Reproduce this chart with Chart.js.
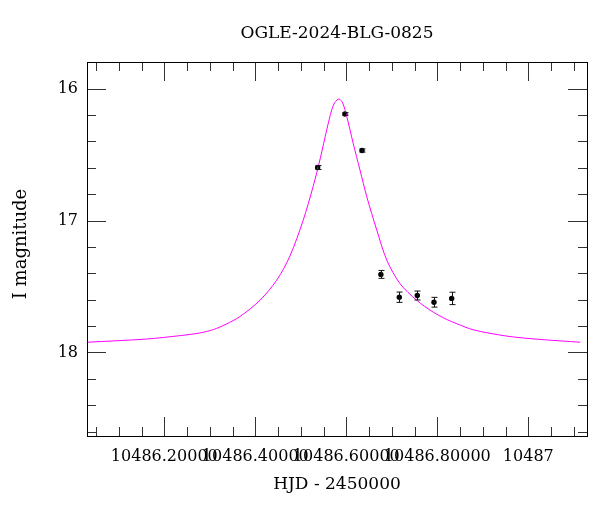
<!DOCTYPE html>
<html><head><meta charset="utf-8">
<script src="https://cdn.jsdelivr.net/npm/chart.js@4"></script>
<style>html,body{margin:0;padding:0;background:#fff}#wrap{width:600px;height:512px}</style>
</head><body><div id="wrap"><canvas id="c" width="600" height="512"></canvas></div>
<script>
const chartTitle = 'OGLE-2024-BLG-0825';
const xAxisTitle = 'HJD - 2450000';
const yAxisTitle = 'I magnitude';

// observed photometry
const obsHJD = [10486.537, 10486.597, 10486.6345, 10486.676, 10486.7165, 10486.756, 10486.7927, 10486.8316];
const obsMag = [16.598, 16.192, 16.469, 17.408, 17.581, 17.568, 17.619, 17.590];
const obsErr = [0.015, 0.010, 0.012, 0.030, 0.039, 0.034, 0.037, 0.047];

// model curve
const modelHJD = [10486.031, 10486.161, 10486.235, 10486.278, 10486.308, 10486.336, 10486.366, 10486.410, 10486.447, 10486.476,
  10486.505, 10486.527, 10486.543, 10486.557, 10486.568, 10486.575, 10486.584, 10486.592, 10486.601, 10486.615,
  10486.630, 10486.645, 10486.667, 10486.689, 10486.718, 10486.755, 10486.791, 10486.821, 10486.843, 10486.879,
  10486.953, 10487.026, 10487.114];
const modelMag = [17.922, 17.898, 17.872, 17.852, 17.826, 17.785, 17.728, 17.605, 17.452, 17.270,
  17.000, 16.743, 16.525, 16.312, 16.160, 16.104, 16.078, 16.109, 16.211, 16.413,
  16.616, 16.819, 17.072, 17.300, 17.478, 17.605, 17.694, 17.750, 17.782, 17.828,
  17.876, 17.901, 17.922];

const xTickValues = [10486.2, 10486.4, 10486.6, 10486.8, 10487.0];
const xTickLabels = ['10486.20000', '10486.40000', '10486.60000', '10486.80000', '10487'];
const yTickValues = [16, 17, 18];
const yTickLabels = ['16', '17', '18'];
const xMinorStep = 0.05;
const yMinorStep = 0.2;

const FONT = 'DejaVu Serif';

const framePlugin = {
  id: 'frame',
  afterDatasetsDraw(chart) {
    const {ctx, scales: {x, y}} = chart;
    ctx.save();
    ctx.strokeStyle = '#111';
    ctx.lineWidth = 1;
    for (let i = 0; i < obsHJD.length; i++) {
      const px = Math.round(x.getPixelForValue(obsHJD[i])) + 0.5;
      const y1 = y.getPixelForValue(obsMag[i] - obsErr[i]);
      const y2 = y.getPixelForValue(obsMag[i] + obsErr[i]);
      ctx.beginPath();
      ctx.moveTo(px, y1); ctx.lineTo(px, y2);
      ctx.moveTo(px - 3, y1); ctx.lineTo(px + 3, y1);
      ctx.moveTo(px - 3, y2); ctx.lineTo(px + 3, y2);
      ctx.stroke();
    }
    ctx.restore();
  },
  afterDraw(chart) {
    const {ctx, chartArea: a, scales: {x, y}} = chart;
    ctx.save();
    ctx.lineWidth = 1;
    ctx.strokeStyle = '#333';
    const major = 19, minor = 9;
    const x0 = Math.ceil(x.min / xMinorStep - 1e-6);
    const x1 = Math.floor(x.max / xMinorStep + 1e-6);
    for (let k = x0; k <= x1; k++) {
      const v = k * xMinorStep;
      const isMajor = Math.abs(v * 5 - Math.round(v * 5)) < 1e-6;
      const len = isMajor ? major : minor;
      const px = Math.round(x.getPixelForValue(v)) + 0.5;
      ctx.beginPath();
      ctx.moveTo(px, a.bottom); ctx.lineTo(px, a.bottom - len);
      ctx.moveTo(px, a.top); ctx.lineTo(px, a.top + len);
      ctx.stroke();
    }
    const y0 = Math.ceil(y.min / yMinorStep - 1e-6);
    const y1 = Math.floor(y.max / yMinorStep + 1e-6);
    for (let k = y0; k <= y1; k++) {
      const v = k * yMinorStep;
      const isMajor = Math.abs(v - Math.round(v)) < 1e-6;
      const len = isMajor ? major : minor;
      const py = Math.round(y.getPixelForValue(v)) + 0.5;
      ctx.beginPath();
      ctx.moveTo(a.left, py); ctx.lineTo(a.left + len, py);
      ctx.moveTo(a.right, py); ctx.lineTo(a.right - len, py);
      ctx.stroke();
    }
    ctx.strokeStyle = '#000';
    ctx.strokeRect(Math.round(a.left) + 0.5, Math.round(a.top) + 0.5, Math.round(a.right - a.left), Math.round(a.bottom - a.top));

    ctx.fillStyle = '#000';
    ctx.textAlign = 'center';
    ctx.textBaseline = 'middle';
    ctx.font = '17px "' + FONT + '"';
    ctx.fillText(chartTitle, (a.left + a.right) / 2, 34);
    ctx.save();
    ctx.translate(21, (a.top + a.bottom) / 2 - 5);
    ctx.rotate(-Math.PI / 2);
    ctx.font = '18px "' + FONT + '"';
    ctx.fillText(yAxisTitle, 0, 0);
    ctx.restore();
    ctx.restore();
  }
};

new Chart(document.getElementById('c'), {
  type: 'scatter',
  data: {
    datasets: [
      {
        label: 'model',
        data: modelHJD.map((t, i) => ({x: t, y: modelMag[i]})),
        showLine: true,
        borderColor: '#ff00ff',
        borderWidth: 1,
        pointRadius: 0,
        tension: 0.3,
        fill: false
      },
      {
        label: 'data',
        data: obsHJD.map((t, i) => ({x: t, y: obsMag[i]})),
        showLine: false,
        pointRadius: 2.7,
        pointBackgroundColor: '#000',
        pointBorderColor: '#000',
        pointBorderWidth: 0
      }
    ]
  },
  options: {
    responsive: false,
    animation: false,
    devicePixelRatio: 1,
    layout: {padding: {left: 0, right: 13, top: 62, bottom: 0}},
    plugins: {
      legend: {display: false},
      tooltip: {enabled: false},
      title: {display: false}
    },
    scales: {
      x: {
        type: 'linear',
        min: 10486.0301,
        max: 10487.129,
        grid: {display: false, drawTicks: false},
        border: {display: false},
        afterBuildTicks: (s) => { s.ticks = xTickValues.map(v => ({value: v})); },
        afterFit: (s) => { s.height = 76; },
        ticks: {
          autoSkip: false, maxRotation: 0, minRotation: 0, padding: 11,
          color: '#000', font: {family: FONT, size: 16},
          callback: (v, i) => xTickLabels[i]
        },
        title: {display: true, text: xAxisTitle, color: '#000',
          font: {family: FONT, size: 17}, padding: {top: 0, bottom: 17}}
      },
      y: {
        type: 'linear',
        reverse: true,
        min: 15.798,
        max: 18.633,
        grid: {display: false, drawTicks: false},
        border: {display: false},
        afterBuildTicks: (s) => { s.ticks = yTickValues.map(v => ({value: v})); },
        afterFit: (s) => { s.width = 87; },
        ticks: {
          padding: 9, color: '#000', font: {family: FONT, size: 16},
          callback: (v, i) => yTickLabels[i]
        },
        title: {display: false}
      }
    }
  },
  plugins: [framePlugin]
});
</script>
</body></html>
